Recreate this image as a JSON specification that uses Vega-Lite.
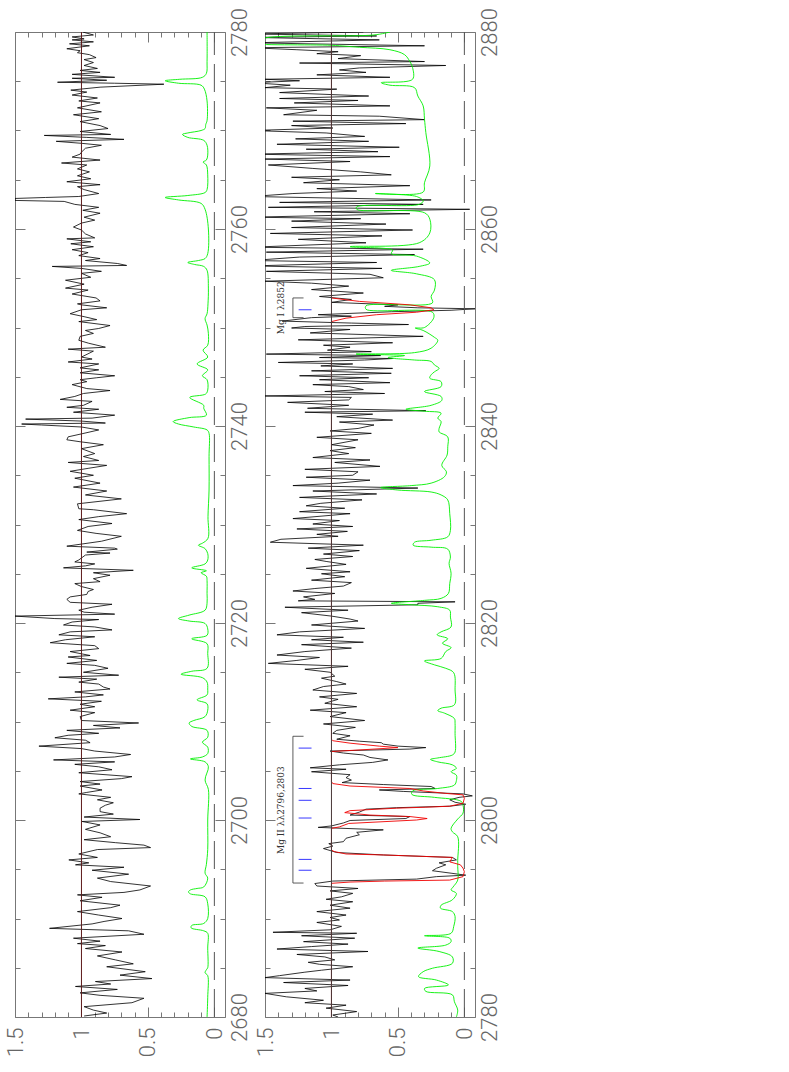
{"$schema":"https://vega.github.io/schema/vega-lite/v6.json","background":"white","bounds":"flush","padding":{"left":3,"top":7,"right":0,"bottom":0},"spacing":40,
"config":{"view":{"stroke":"#777","strokeWidth":1},"axis":{"grid":false,"domain":false,"title":null,"tickColor":"#777","tickWidth":1,"labelFlush":false,"labelOverlap":false,"labelBound":false,"labelFont":"Roboto","labelFontWeight":300,"labelFontSize":22,"labelColor":"#666","labelAngle":270,"labelBaseline":"middle","format":"d"}},
"datasets":{
"unityA":[{"w":2680,"f":1},{"w":2780,"f":1}],
"zeroA":[{"w":2680,"f":0},{"w":2780,"f":0}],
"unityB":[{"w":2780,"f":1},{"w":2880,"f":1}],
"zeroB":[{"w":2780,"f":0},{"w":2880,"f":0}],
"s1":[{"w":2780,"f":0.99},{"w":2779.7,"f":0.91},{"w":2779.5,"f":1.07},{"w":2779.3,"f":0.98},{"w":2779.2,"f":1.07},{"w":2779,"f":0.91},{"w":2778.8,"f":1.09},{"w":2778.6,"f":0.94},{"w":2778.3,"f":1.11},{"w":2778.1,"f":1.01},{"w":2777.9,"f":1.03},{"w":2777.7,"f":0.94},{"w":2777.4,"f":0.89},{"w":2777.2,"f":0.98},{"w":2776.9,"f":0.91},{"w":2776.6,"f":0.98},{"w":2776.3,"f":0.88},{"w":2776.1,"f":1.01},{"w":2775.9,"f":0.86},{"w":2775.7,"f":1.07},{"w":2775.4,"f":0.75},{"w":2775.3,"f":1.07},{"w":2775.1,"f":0.81},{"w":2774.9,"f":1.18},{"w":2774.8,"f":0.75},{"w":2774.7,"f":0.38},{"w":2774.4,"f":0.86},{"w":2774.1,"f":1.08},{"w":2773.9,"f":0.96},{"w":2773.6,"f":1.07},{"w":2773.3,"f":0.88},{"w":2773,"f":1.02},{"w":2772.8,"f":0.86},{"w":2772.3,"f":1.03},{"w":2771.9,"f":0.85},{"w":2771.6,"f":1.06},{"w":2771.2,"f":0.87},{"w":2770.9,"f":1.01},{"w":2770.5,"f":0.86},{"w":2770.2,"f":0.8},{"w":2769.9,"f":1.01},{"w":2769.6,"f":0.78},{"w":2769.5,"f":1.28},{"w":2769.3,"f":0.96},{"w":2769.1,"f":0.68},{"w":2768.9,"f":1.19},{"w":2768.7,"f":1},{"w":2768.5,"f":0.85},{"w":2768.2,"f":0.97},{"w":2767.8,"f":1},{"w":2767.6,"f":1.01},{"w":2767.3,"f":1.07},{"w":2767,"f":0.86},{"w":2766.7,"f":1.15},{"w":2766.5,"f":0.96},{"w":2766.1,"f":1.03},{"w":2765.8,"f":0.94},{"w":2765.4,"f":1.03},{"w":2765.1,"f":0.93},{"w":2764.8,"f":1.11},{"w":2764.5,"f":0.86},{"w":2764.3,"f":1.03},{"w":2764,"f":0.98},{"w":2763.6,"f":0.87},{"w":2763.3,"f":1.02},{"w":2763.2,"f":1.27},{"w":2763.1,"f":1.5},{"w":2762.9,"f":1.5},{"w":2762.8,"f":1.13},{"w":2762.5,"f":1.05},{"w":2762.2,"f":0.87},{"w":2761.9,"f":0.99},{"w":2761.6,"f":0.86},{"w":2761.2,"f":0.98},{"w":2760.9,"f":0.9},{"w":2760.6,"f":1},{"w":2760.2,"f":1.06},{"w":2759.9,"f":1},{"w":2759.5,"f":0.97},{"w":2759.1,"f":0.9},{"w":2759,"f":1.11},{"w":2758.7,"f":0.93},{"w":2758.5,"f":1.08},{"w":2758.2,"f":0.91},{"w":2757.9,"f":1.07},{"w":2757.6,"f":0.95},{"w":2757.3,"f":1.02},{"w":2757,"f":0.86},{"w":2756.8,"f":0.97},{"w":2756.5,"f":0.73},{"w":2756.3,"f":0.66},{"w":2756.2,"f":1.22},{"w":2756,"f":1},{"w":2755.7,"f":0.85},{"w":2755.5,"f":1},{"w":2755.1,"f":0.93},{"w":2754.8,"f":1.12},{"w":2754.4,"f":0.98},{"w":2754,"f":1.12},{"w":2753.8,"f":0.95},{"w":2753.4,"f":1.07},{"w":2753,"f":0.89},{"w":2752.7,"f":0.86},{"w":2752.4,"f":1.03},{"w":2752.3,"f":1},{"w":2752,"f":0.81},{"w":2751.8,"f":1},{"w":2751.4,"f":1.085},{"w":2751.1,"f":0.98},{"w":2750.8,"f":0.885},{"w":2750.6,"f":1.02},{"w":2750.2,"f":0.785},{"w":2749.9,"f":0.87},{"w":2749.7,"f":0.97},{"w":2749.4,"f":0.91},{"w":2749.1,"f":1.01},{"w":2748.7,"f":1.02},{"w":2748.4,"f":0.945},{"w":2748,"f":0.82},{"w":2747.8,"f":1.1},{"w":2747.6,"f":0.91},{"w":2747,"f":1},{"w":2746.8,"f":0.92},{"w":2746.5,"f":1.1},{"w":2746.3,"f":0.87},{"w":2745.9,"f":1.01},{"w":2745.7,"f":0.87},{"w":2745.4,"f":1.01},{"w":2745.1,"f":0.75},{"w":2744.9,"f":0.885},{"w":2744.7,"f":1.01},{"w":2744.5,"f":0.96},{"w":2744.2,"f":1.07},{"w":2743.8,"f":0.96},{"w":2743.6,"f":0.785},{"w":2743.3,"f":0.985},{"w":2743,"f":1.05},{"w":2742.7,"f":1.16},{"w":2742.5,"f":0.92},{"w":2742.1,"f":0.985},{"w":2741.9,"f":1.11},{"w":2741.7,"f":0.87},{"w":2741.4,"f":1.06},{"w":2741.1,"f":0.75},{"w":2740.8,"f":0.92},{"w":2740.7,"f":1.42},{"w":2740.5,"f":1},{"w":2740.3,"f":0.82},{"w":2740.2,"f":1.45},{"w":2740.1,"f":1.3},{"w":2739.9,"f":1},{"w":2739.6,"f":0.87},{"w":2739.2,"f":1},{"w":2738.9,"f":1.1},{"w":2738.6,"f":1.11},{"w":2738.4,"f":1.01},{"w":2738.1,"f":0.835},{"w":2737.7,"f":1},{"w":2737.2,"f":0.9},{"w":2736.9,"f":0.985},{"w":2736.5,"f":0.87},{"w":2736.3,"f":1.1},{"w":2736,"f":0.81},{"w":2735.7,"f":0.95},{"w":2735.4,"f":1.085},{"w":2735,"f":0.91},{"w":2734.7,"f":1.05},{"w":2734.2,"f":0.86},{"w":2733.8,"f":1.06},{"w":2733.4,"f":0.81},{"w":2733,"f":0.97},{"w":2732.6,"f":0.7},{"w":2732.1,"f":1.03},{"w":2731.6,"f":1.02},{"w":2731.5,"f":0.91},{"w":2731.1,"f":0.66},{"w":2730.8,"f":0.87},{"w":2730.5,"f":1.02},{"w":2730.1,"f":0.77},{"w":2729.8,"f":0.95},{"w":2729.4,"f":1.03},{"w":2729.1,"f":0.89},{"w":2728.8,"f":0.7},{"w":2728.3,"f":0.85},{"w":2727.8,"f":1.11},{"w":2727.6,"f":0.75},{"w":2727.5,"f":0.73},{"w":2727.2,"f":0.96},{"w":2727.1,"f":0.785},{"w":2726.9,"f":0.97},{"w":2726.4,"f":1.02},{"w":2726.2,"f":1.05},{"w":2726,"f":0.9},{"w":2725.8,"f":0.97},{"w":2725.6,"f":1.135},{"w":2725.35,"f":0.61},{"w":2725.1,"f":0.91},{"w":2724.85,"f":0.785},{"w":2724.5,"f":0.91},{"w":2724.2,"f":0.86},{"w":2724,"f":1.05},{"w":2723.7,"f":1},{"w":2723.4,"f":0.91},{"w":2723.2,"f":0.95},{"w":2722.9,"f":0.96},{"w":2722.65,"f":1.085},{"w":2722.4,"f":1.11},{"w":2722.1,"f":1.085},{"w":2721.9,"f":0.77},{"w":2721.6,"f":0.92},{"w":2721.3,"f":1.02},{"w":2721.1,"f":0.98},{"w":2720.9,"f":0.75},{"w":2720.7,"f":1.5},{"w":2720.45,"f":1.2},{"w":2720.35,"f":0.87},{"w":2720.1,"f":1.07},{"w":2719.8,"f":1.135},{"w":2719.6,"f":0.9},{"w":2719.3,"f":0.77},{"w":2719.1,"f":1.085},{"w":2718.8,"f":1.17},{"w":2718.6,"f":0.9},{"w":2718.3,"f":1.12},{"w":2718,"f":1.235},{"w":2717.7,"f":0.9},{"w":2717.4,"f":0.87},{"w":2717.1,"f":1.085},{"w":2716.7,"f":0.935},{"w":2716.55,"f":1.1},{"w":2716.2,"f":0.885},{"w":2715.9,"f":1.11},{"w":2715.7,"f":0.9},{"w":2715.4,"f":0.8},{"w":2715,"f":0.985},{"w":2714.7,"f":0.72},{"w":2714.5,"f":1.17},{"w":2714.3,"f":0.885},{"w":2714,"f":1.02},{"w":2713.8,"f":0.87},{"w":2713.5,"f":0.835},{"w":2713.3,"f":0.785},{"w":2713,"f":1.05},{"w":2712.7,"f":0.835},{"w":2712.5,"f":0.97},{"w":2712.3,"f":1.25},{"w":2712.05,"f":0.85},{"w":2711.75,"f":1.01},{"w":2711.5,"f":0.9},{"w":2711.15,"f":1.085},{"w":2710.9,"f":0.9},{"w":2710.5,"f":1.01},{"w":2710.1,"f":1},{"w":2709.85,"f":0.57},{"w":2709.6,"f":0.91},{"w":2709.35,"f":0.71},{"w":2709.1,"f":1.11},{"w":2708.8,"f":0.87},{"w":2708.6,"f":1.1},{"w":2708.35,"f":1.2},{"w":2708.1,"f":0.97},{"w":2707.85,"f":0.935},{"w":2707.5,"f":1.32},{"w":2707.25,"f":1},{"w":2707,"f":0.9},{"w":2706.65,"f":0.63},{"w":2706.4,"f":0.75},{"w":2706.1,"f":1.21},{"w":2705.9,"f":0.75},{"w":2705.65,"f":1.05},{"w":2705.4,"f":0.87},{"w":2705.1,"f":0.77},{"w":2704.8,"f":1.02},{"w":2704.4,"f":0.62},{"w":2704.2,"f":0.7},{"w":2703.9,"f":1.01},{"w":2703.65,"f":0.86},{"w":2703.45,"f":1.01},{"w":2703.05,"f":0.845},{"w":2702.8,"f":0.96},{"w":2702.65,"f":1.02},{"w":2702.3,"f":0.78},{"w":2702.05,"f":0.88},{"w":2701.75,"f":0.76},{"w":2701.5,"f":0.82},{"w":2701.2,"f":0.86},{"w":2700.85,"f":0.86},{"w":2700.6,"f":0.76},{"w":2700.3,"f":0.98},{"w":2700.05,"f":0.56},{"w":2699.85,"f":0.995},{"w":2699.5,"f":0.86},{"w":2699.05,"f":0.97},{"w":2698.7,"f":0.86},{"w":2698.3,"f":0.78},{"w":2698,"f":0.98},{"w":2697.7,"f":0.745},{"w":2697.45,"f":0.53},{"w":2697.2,"f":0.48},{"w":2697,"f":0.88},{"w":2696.55,"f":1.02},{"w":2696.2,"f":0.88},{"w":2695.95,"f":1.095},{"w":2695.65,"f":0.945},{"w":2695.45,"f":1.045},{"w":2695.2,"f":0.68},{"w":2694.9,"f":0.92},{"w":2694.5,"f":0.645},{"w":2694.1,"f":0.88},{"w":2693.75,"f":0.78},{"w":2693.3,"f":0.48},{"w":2692.9,"f":0.56},{"w":2692.65,"f":0.68},{"w":2692.4,"f":1.03},{"w":2692.15,"f":0.845},{"w":2691.8,"f":1.01},{"w":2691.35,"f":0.71},{"w":2691.1,"f":0.78},{"w":2690.7,"f":1.03},{"w":2690.35,"f":0.87},{"w":2690,"f":0.695},{"w":2689.7,"f":0.83},{"w":2689.45,"f":0.92},{"w":2689,"f":1.24},{"w":2688.75,"f":0.645},{"w":2688.4,"f":0.53},{"w":2688,"f":1.06},{"w":2687.7,"f":0.86},{"w":2687.45,"f":1.03},{"w":2687.25,"f":0.82},{"w":2686.95,"f":0.97},{"w":2686.6,"f":0.695},{"w":2686.2,"f":0.88},{"w":2685.8,"f":0.745},{"w":2685.4,"f":0.61},{"w":2685.1,"f":0.81},{"w":2684.6,"f":0.52},{"w":2684.25,"f":0.71},{"w":2683.9,"f":0.47},{"w":2683.6,"f":0.895},{"w":2683.35,"f":0.78},{"w":2683.1,"f":1.045},{"w":2682.8,"f":0.73},{"w":2682.45,"f":1.01},{"w":2682.2,"f":0.86},{"w":2681.9,"f":0.53},{"w":2681.45,"f":0.62},{"w":2681.05,"f":0.98},{"w":2680.7,"f":0.91},{"w":2680.4,"f":0.81},{"w":2680.1,"f":0.98}],
"e1":[{"w":2780,"f":0.055},{"w":2777,"f":0.055},{"w":2775.8,"f":0.06},{"w":2775.4,"f":0.09},{"w":2775.2,"f":0.26},{"w":2775.05,"f":0.37},{"w":2774.8,"f":0.27},{"w":2774.6,"f":0.1},{"w":2774.2,"f":0.075},{"w":2773,"f":0.055},{"w":2771,"f":0.055},{"w":2770.6,"f":0.065},{"w":2770.2,"f":0.07},{"w":2770,"f":0.1},{"w":2769.75,"f":0.2},{"w":2769.6,"f":0.24},{"w":2769.3,"f":0.2},{"w":2769,"f":0.08},{"w":2768.5,"f":0.055},{"w":2767.5,"f":0.05},{"w":2767,"f":0.06},{"w":2766.8,"f":0.085},{"w":2766.5,"f":0.06},{"w":2765.5,"f":0.05},{"w":2764,"f":0.055},{"w":2763.7,"f":0.07},{"w":2763.4,"f":0.2},{"w":2763.2,"f":0.37},{"w":2762.95,"f":0.27},{"w":2762.6,"f":0.1},{"w":2762,"f":0.07},{"w":2760,"f":0.045},{"w":2757.5,"f":0.05},{"w":2757,"f":0.07},{"w":2756.8,"f":0.12},{"w":2756.6,"f":0.2},{"w":2756.4,"f":0.15},{"w":2756.2,"f":0.08},{"w":2755.8,"f":0.055},{"w":2754,"f":0.045},{"w":2752.4,"f":0.048},{"w":2751.4,"f":0.055},{"w":2750.9,"f":0.07},{"w":2750.25,"f":0.055},{"w":2749.4,"f":0.045},{"w":2748.2,"f":0.05},{"w":2747.7,"f":0.085},{"w":2747,"f":0.05},{"w":2746.3,"f":0.13},{"w":2745.7,"f":0.05},{"w":2745.1,"f":0.09},{"w":2744.7,"f":0.055},{"w":2743.65,"f":0.05},{"w":2743.25,"f":0.065},{"w":2742.9,"f":0.185},{"w":2742.1,"f":0.08},{"w":2741.8,"f":0.08},{"w":2741.1,"f":0.06},{"w":2740.85,"f":0.19},{"w":2740.45,"f":0.31},{"w":2740.2,"f":0.27},{"w":2739.9,"f":0.155},{"w":2739.6,"f":0.055},{"w":2739.25,"f":0.04},{"w":2736.9,"f":0.04},{"w":2733.5,"f":0.04},{"w":2730.8,"f":0.048},{"w":2728.6,"f":0.048},{"w":2728.1,"f":0.09},{"w":2727.9,"f":0.12},{"w":2727.55,"f":0.07},{"w":2727.05,"f":0.05},{"w":2726.4,"f":0.05},{"w":2726,"f":0.07},{"w":2725.6,"f":0.17},{"w":2725.3,"f":0.06},{"w":2725.1,"f":0.1},{"w":2724.75,"f":0.06},{"w":2724.3,"f":0.055},{"w":2723,"f":0.055},{"w":2722,"f":0.055},{"w":2721.3,"f":0.07},{"w":2720.8,"f":0.19},{"w":2720.45,"f":0.27},{"w":2720.2,"f":0.19},{"w":2719.95,"f":0.07},{"w":2719.4,"f":0.05},{"w":2718.75,"f":0.055},{"w":2718.4,"f":0.17},{"w":2717.9,"f":0.055},{"w":2716.9,"f":0.05},{"w":2715.4,"f":0.055},{"w":2715.1,"f":0.17},{"w":2714.8,"f":0.25},{"w":2714.45,"f":0.09},{"w":2714,"f":0.055},{"w":2713.3,"f":0.05},{"w":2712.7,"f":0.055},{"w":2712.2,"f":0.13},{"w":2711.8,"f":0.055},{"w":2711.15,"f":0.05},{"w":2710.5,"f":0.07},{"w":2710.1,"f":0.155},{"w":2709.85,"f":0.19},{"w":2709.5,"f":0.17},{"w":2709.1,"f":0.055},{"w":2708.4,"f":0.05},{"w":2707.9,"f":0.09},{"w":2707.4,"f":0.05},{"w":2706.75,"f":0.05},{"w":2706.4,"f":0.09},{"w":2706.2,"f":0.18},{"w":2705.9,"f":0.07},{"w":2705.4,"f":0.045},{"w":2704.06,"f":0.07},{"w":2703.1,"f":0.045},{"w":2700,"f":0.05},{"w":2697,"f":0.05},{"w":2695.5,"f":0.06},{"w":2694.6,"f":0.07},{"w":2694.1,"f":0.05},{"w":2693.2,"f":0.08},{"w":2693.05,"f":0.13},{"w":2692.9,"f":0.18},{"w":2692.7,"f":0.195},{"w":2692.5,"f":0.18},{"w":2692.2,"f":0.07},{"w":2691.5,"f":0.05},{"w":2690,"f":0.05},{"w":2689.5,"f":0.08},{"w":2689.3,"f":0.17},{"w":2689.05,"f":0.175},{"w":2688.75,"f":0.08},{"w":2688.5,"f":0.05},{"w":2687,"f":0.05},{"w":2685,"f":0.05},{"w":2684.8,"f":0.06},{"w":2684.5,"f":0.07},{"w":2684.2,"f":0.05},{"w":2682,"f":0.05},{"w":2680,"f":0.055}],
"s2":[{"w":2880,"f":0.76},{"w":2879.8,"f":1.6},{"w":2879.6,"f":0.66},{"w":2879.45,"f":1.6},{"w":2879.2,"f":0.64},{"w":2878.9,"f":1.6},{"w":2878.6,"f":0.3},{"w":2878.4,"f":1.6},{"w":2878.2,"f":1.26},{"w":2878,"f":0.95},{"w":2877.8,"f":1.11},{"w":2877.6,"f":0.78},{"w":2877.3,"f":0.95},{"w":2877,"f":0.3},{"w":2876.85,"f":1.24},{"w":2876.6,"f":0.14},{"w":2876.35,"f":0.79},{"w":2876.15,"f":0.94},{"w":2875.9,"f":0.74},{"w":2875.65,"f":1.11},{"w":2875.4,"f":0.56},{"w":2875.2,"f":1.5},{"w":2875.05,"f":1.24},{"w":2874.85,"f":1.6},{"w":2874.6,"f":1.31},{"w":2874.35,"f":1.5},{"w":2874.2,"f":0.96},{"w":2873.85,"f":1.39},{"w":2873.5,"f":0.72},{"w":2873.25,"f":1.39},{"w":2873.05,"f":0.8},{"w":2872.8,"f":1.28},{"w":2872.5,"f":0.56},{"w":2872.3,"f":1.49},{"w":2872.05,"f":1.11},{"w":2871.6,"f":1.36},{"w":2871.45,"f":0.64},{"w":2871.1,"f":0.3},{"w":2870.95,"f":1.29},{"w":2870.7,"f":0.44},{"w":2870.5,"f":1.3},{"w":2870.25,"f":0.99},{"w":2870,"f":1.6},{"w":2869.75,"f":1.04},{"w":2869.4,"f":0.75},{"w":2869.15,"f":1.27},{"w":2868.9,"f":0.72},{"w":2868.6,"f":1.41},{"w":2868.3,"f":0.49},{"w":2868.1,"f":1.19},{"w":2867.85,"f":0.65},{"w":2867.6,"f":1.6},{"w":2867.35,"f":0.56},{"w":2867.1,"f":1.5},{"w":2866.85,"f":0.86},{"w":2866.5,"f":1.475},{"w":2866.15,"f":1.14},{"w":2865.8,"f":0.78},{"w":2865.5,"f":0.55},{"w":2865.25,"f":1.3},{"w":2865,"f":0.94},{"w":2864.7,"f":1.21},{"w":2864.4,"f":0.41},{"w":2864.1,"f":1.11},{"w":2863.85,"f":0.81},{"w":2863.6,"f":1.29},{"w":2863.3,"f":1.6},{"w":2862.95,"f":0.25},{"w":2862.7,"f":1.39},{"w":2862.5,"f":0.31},{"w":2862.2,"f":1.475},{"w":2862,"f":-0.04},{"w":2861.75,"f":1.13},{"w":2861.55,"f":0.41},{"w":2861.2,"f":1.6},{"w":2861.05,"f":0.78},{"w":2860.8,"f":1.3},{"w":2860.5,"f":0.59},{"w":2860.15,"f":1.3},{"w":2859.9,"f":0.39},{"w":2859.55,"f":1.46},{"w":2859.3,"f":0.62},{"w":2858.95,"f":1.25},{"w":2858.6,"f":0.74},{"w":2858.15,"f":1.6},{"w":2857.95,"f":0.31},{"w":2857.65,"f":1.49},{"w":2857.4,"f":0.375},{"w":2857.15,"f":1.24},{"w":2856.8,"f":1.6},{"w":2856.6,"f":0.66},{"w":2856.25,"f":1.6},{"w":2856,"f":0.62},{"w":2855.7,"f":1.49},{"w":2855.4,"f":0.71},{"w":2855.05,"f":0.61},{"w":2854.7,"f":1.5},{"w":2854.5,"f":1.15},{"w":2854.2,"f":0.87},{"w":2853.85,"f":1.15},{"w":2853.5,"f":0.76},{"w":2853.15,"f":1.09},{"w":2852.85,"f":0.85},{"w":2852.55,"f":1},{"w":2852.3,"f":0.5},{"w":2852.15,"f":0.6},{"w":2852,"f":0.35},{"w":2851.9,"f":-0.08},{"w":2851.75,"f":0.1},{"w":2851.6,"f":0.55},{"w":2851.3,"f":1.1},{"w":2851.15,"f":0.85},{"w":2851,"f":1.15},{"w":2850.65,"f":1.37},{"w":2850.45,"f":0.85},{"w":2850.3,"f":0.42},{"w":2850.1,"f":1.2},{"w":2849.95,"f":1.3},{"w":2849.8,"f":0.86},{"w":2849.45,"f":1.16},{"w":2849.1,"f":0.31},{"w":2848.75,"f":1.25},{"w":2848.45,"f":0.54},{"w":2848.2,"f":1.06},{"w":2848,"f":0.86},{"w":2847.7,"f":1.03},{"w":2847.55,"f":0.7},{"w":2847.3,"f":1.49},{"w":2847.15,"f":0.63},{"w":2846.95,"f":1.09},{"w":2846.85,"f":0.54},{"w":2846.7,"f":0.75},{"w":2846.45,"f":1.4},{"w":2846.3,"f":0.84},{"w":2846.1,"f":1.08},{"w":2845.85,"f":0.54},{"w":2845.6,"f":1.15},{"w":2845.35,"f":0.55},{"w":2845.1,"f":1.24},{"w":2844.9,"f":0.72},{"w":2844.7,"f":1.09},{"w":2844.4,"f":0.56},{"w":2844.2,"f":1.14},{"w":2844,"f":0.87},{"w":2843.7,"f":0.76},{"w":2843.5,"f":1.05},{"w":2843.3,"f":0.6},{"w":2843.05,"f":1.5},{"w":2842.9,"f":0.85},{"w":2842.65,"f":0.87},{"w":2842.4,"f":1.33},{"w":2842.1,"f":0.87},{"w":2841.8,"f":1.18},{"w":2841.55,"f":0.29},{"w":2841.4,"f":1.2},{"w":2841.2,"f":0.69},{"w":2840.95,"f":0.96},{"w":2840.6,"f":0.54},{"w":2840.4,"f":0.94},{"w":2840.1,"f":0.68},{"w":2839.75,"f":0.8},{"w":2839.5,"f":1.01},{"w":2839.25,"f":0.7},{"w":2838.85,"f":1.11},{"w":2838.6,"f":0.8},{"w":2838.1,"f":1},{"w":2837.8,"f":0.82},{"w":2837.5,"f":1.01},{"w":2837.2,"f":0.87},{"w":2836.8,"f":1.14},{"w":2836.55,"f":0.71},{"w":2836.3,"f":0.975},{"w":2835.9,"f":0.635},{"w":2835.6,"f":1.2},{"w":2835.35,"f":0.8},{"w":2835,"f":0.84},{"w":2834.8,"f":1.19},{"w":2834.5,"f":0.71},{"w":2834.2,"f":0.95},{"w":2833.95,"f":1.29},{"w":2833.7,"f":0.35},{"w":2833.4,"f":1.14},{"w":2833.1,"f":0.66},{"w":2832.75,"f":1.24},{"w":2832.5,"f":0.77},{"w":2832.15,"f":1.08},{"w":2831.9,"f":1.19},{"w":2831.65,"f":0.9},{"w":2831.3,"f":1.24},{"w":2831.1,"f":0.86},{"w":2830.6,"f":1.29},{"w":2830.4,"f":0.94},{"w":2830.05,"f":1.14},{"w":2829.8,"f":0.84},{"w":2829.55,"f":1.26},{"w":2829.3,"f":0.88},{"w":2829,"f":1.11},{"w":2828.8,"f":0.95},{"w":2828.5,"f":1.38},{"w":2828.2,"f":1.46},{"w":2827.9,"f":0.76},{"w":2827.6,"f":1.175},{"w":2827.35,"f":0.79},{"w":2827,"f":1.06},{"w":2826.75,"f":0.84},{"w":2826.45,"f":1.125},{"w":2826.25,"f":1.04},{"w":2825.95,"f":0.89},{"w":2825.55,"f":1.19},{"w":2825.2,"f":0.86},{"w":2825,"f":1.075},{"w":2824.7,"f":0.9},{"w":2824.35,"f":1.15},{"w":2824.1,"f":0.85},{"w":2823.75,"f":0.91},{"w":2823.5,"f":1.125},{"w":2823.25,"f":1.29},{"w":2823,"f":0.975},{"w":2822.65,"f":1.21},{"w":2822.4,"f":1.125},{"w":2822.25,"f":1.25},{"w":2822.15,"f":0.07},{"w":2822,"f":0.35},{"w":2821.85,"f":0.35},{"w":2821.6,"f":1.35},{"w":2821.3,"f":0.875},{"w":2821.05,"f":1.225},{"w":2820.7,"f":1},{"w":2820.4,"f":0.86},{"w":2820.2,"f":0.8},{"w":2819.8,"f":1.15},{"w":2819.45,"f":0.75},{"w":2819.1,"f":1.24},{"w":2818.8,"f":1.41},{"w":2818.55,"f":0.91},{"w":2818.3,"f":1.15},{"w":2818.05,"f":0.76},{"w":2817.8,"f":1.225},{"w":2817.45,"f":0.85},{"w":2817.1,"f":1.2},{"w":2816.75,"f":1.41},{"w":2816.5,"f":1.09},{"w":2816.2,"f":1.26},{"w":2815.9,"f":1.475},{"w":2815.6,"f":0.875},{"w":2815.3,"f":1.2},{"w":2815,"f":1.01},{"w":2814.6,"f":0.975},{"w":2814.4,"f":1.075},{"w":2814.05,"f":0.96},{"w":2813.8,"f":0.89},{"w":2813.55,"f":1.06},{"w":2813.2,"f":1.14},{"w":2812.85,"f":0.81},{"w":2812.5,"f":1.09},{"w":2812.25,"f":0.95},{"w":2811.85,"f":1.05},{"w":2811.5,"f":0.81},{"w":2811.15,"f":1.16},{"w":2810.9,"f":0.89},{"w":2810.5,"f":1.01},{"w":2810.1,"f":0.75},{"w":2809.75,"f":1.06},{"w":2809.4,"f":0.82},{"w":2809.1,"f":0.96},{"w":2808.8,"f":0.99},{"w":2808.55,"f":0.86},{"w":2808.2,"f":0.96},{"w":2808,"f":0.79},{"w":2807.85,"f":0.625},{"w":2807.7,"f":0.61},{"w":2807.5,"f":0.5},{"w":2807.35,"f":0.29},{"w":2807.2,"f":0.41},{"w":2807,"f":1.01},{"w":2806.8,"f":0.91},{"w":2806.6,"f":0.76},{"w":2806.35,"f":0.71},{"w":2806.1,"f":0.575},{"w":2805.85,"f":0.69},{"w":2805.6,"f":0.94},{"w":2805.3,"f":1.16},{"w":2805.15,"f":0.89},{"w":2804.9,"f":1.15},{"w":2804.6,"f":0.86},{"w":2804.3,"f":0.89},{"w":2804.05,"f":0.85},{"w":2803.8,"f":0.92},{"w":2803.6,"f":0.61},{"w":2803.4,"f":0.25},{"w":2803.2,"f":0.22},{"w":2803.05,"f":0.64},{"w":2802.9,"f":0.46},{"w":2802.65,"f":0.01},{"w":2802.45,"f":-0.06},{"w":2802.3,"f":0.04},{"w":2802.05,"f":0.11},{"w":2801.8,"f":0.07},{"w":2801.6,"f":-0.01},{"w":2801.4,"f":0.11},{"w":2801.25,"f":0.51},{"w":2801.1,"f":0.74},{"w":2800.8,"f":0.79},{"w":2800.5,"f":0.86},{"w":2800.35,"f":0.41},{"w":2800.15,"f":0.44},{"w":2799.95,"f":0.86},{"w":2799.7,"f":0.91},{"w":2799.4,"f":1},{"w":2799.25,"f":1.1},{"w":2799,"f":0.61},{"w":2798.75,"f":0.81},{"w":2798.5,"f":0.79},{"w":2798.15,"f":0.89},{"w":2797.8,"f":0.91},{"w":2797.6,"f":1.02},{"w":2797.35,"f":0.99},{"w":2797.1,"f":1.06},{"w":2796.9,"f":1.01},{"w":2796.7,"f":0.96},{"w":2796.45,"f":0.61},{"w":2796.2,"f":0.09},{"w":2795.95,"f":0.06},{"w":2795.65,"f":0.19},{"w":2795.45,"f":0.14},{"w":2795.1,"f":0.21},{"w":2794.85,"f":0.24},{"w":2794.6,"f":0.1},{"w":2794.4,"f":-0.01},{"w":2794.25,"f":0.21},{"w":2794,"f":0.36},{"w":2793.8,"f":0.99},{"w":2793.55,"f":1.125},{"w":2793.3,"f":1.11},{"w":2793.05,"f":0.8},{"w":2792.8,"f":1.01},{"w":2792.55,"f":0.84},{"w":2792.2,"f":0.925},{"w":2791.95,"f":1.04},{"w":2791.7,"f":0.84},{"w":2791.35,"f":1.01},{"w":2791.05,"f":0.86},{"w":2790.7,"f":1.11},{"w":2790.35,"f":0.89},{"w":2790.1,"f":1.01},{"w":2789.85,"f":0.94},{"w":2789.6,"f":1.11},{"w":2789.2,"f":0.925},{"w":2788.85,"f":1.01},{"w":2788.6,"f":1.44},{"w":2788.5,"f":0.81},{"w":2788.25,"f":1.225},{"w":2788,"f":0.825},{"w":2787.65,"f":1.21},{"w":2787.4,"f":0.875},{"w":2787.15,"f":1.15},{"w":2786.9,"f":1.41},{"w":2786.65,"f":0.725},{"w":2786.35,"f":1.26},{"w":2786.1,"f":1.05},{"w":2785.8,"f":0.975},{"w":2785.55,"f":1.175},{"w":2785.35,"f":1.09},{"w":2785.1,"f":0.84},{"w":2784.75,"f":1.075},{"w":2784.55,"f":1.2},{"w":2784.2,"f":1.39},{"w":2784,"f":1.5},{"w":2783.75,"f":0.86},{"w":2783.5,"f":1.36},{"w":2783.2,"f":0.875},{"w":2782.9,"f":1.2},{"w":2782.65,"f":1.11},{"w":2782.4,"f":1.5},{"w":2782.05,"f":1.34},{"w":2781.7,"f":1.06},{"w":2781.45,"f":1.2},{"w":2781.2,"f":0.89},{"w":2780.9,"f":1.04},{"w":2780.55,"f":0.81},{"w":2780.2,"f":0.99},{"w":2780,"f":0.95}],
"e2":[{"w":2880,"f":0.56},{"w":2879.7,"f":0.68},{"w":2879.4,"f":1.5},{"w":2878.9,"f":1.6},{"w":2878.65,"f":1},{"w":2878.45,"f":0.79},{"w":2878.2,"f":0.56},{"w":2877.7,"f":0.45},{"w":2877,"f":0.41},{"w":2876.4,"f":0.39},{"w":2875.2,"f":0.39},{"w":2874.85,"f":0.625},{"w":2874.6,"f":0.56},{"w":2874.35,"f":0.375},{"w":2873.5,"f":0.35},{"w":2872.5,"f":0.31},{"w":2871.15,"f":0.3},{"w":2869.8,"f":0.29},{"w":2866.4,"f":0.26},{"w":2864.7,"f":0.3},{"w":2863.75,"f":0.31},{"w":2863.6,"f":0.67},{"w":2863.3,"f":0.36},{"w":2862.85,"f":0.31},{"w":2862.5,"f":0.34},{"w":2862.25,"f":0.81},{"w":2862,"f":0.81},{"w":2861.65,"f":0.3},{"w":2861,"f":0.26},{"w":2859.6,"f":0.26},{"w":2858.6,"f":0.34},{"w":2858.2,"f":0.86},{"w":2857.85,"f":0.54},{"w":2857.5,"f":0.55},{"w":2857.25,"f":0.36},{"w":2856.55,"f":0.26},{"w":2856.2,"f":0.34},{"w":2855.8,"f":0.55},{"w":2855.45,"f":0.36},{"w":2854.85,"f":0.225},{"w":2853.8,"f":0.225},{"w":2853.15,"f":0.25},{"w":2852.5,"f":0.24},{"w":2852.2,"f":0.74},{"w":2851.85,"f":0.74},{"w":2851.55,"f":0.24},{"w":2851,"f":0.23},{"w":2850,"f":0.3},{"w":2849.95,"f":0.37},{"w":2849.7,"f":0.31},{"w":2849,"f":0.225},{"w":2848.7,"f":0.2},{"w":2847.9,"f":0.25},{"w":2847.45,"f":0.375},{"w":2847.3,"f":0.815},{"w":2847.15,"f":0.45},{"w":2846.95,"f":0.575},{"w":2846.7,"f":0.375},{"w":2846.55,"f":0.25},{"w":2846.2,"f":0.225},{"w":2845.85,"f":0.19},{"w":2845.5,"f":0.225},{"w":2845.2,"f":0.25},{"w":2844.85,"f":0.26},{"w":2844.5,"f":0.175},{"w":2844,"f":0.175},{"w":2843.5,"f":0.3},{"w":2843,"f":0.175},{"w":2842.6,"f":0.17},{"w":2842.1,"f":0.25},{"w":2841.7,"f":0.44},{"w":2841.5,"f":0.3},{"w":2841.3,"f":0.175},{"w":2840.8,"f":0.2},{"w":2840.45,"f":0.175},{"w":2839.75,"f":0.19},{"w":2839.4,"f":0.19},{"w":2838.9,"f":0.125},{"w":2837.9,"f":0.125},{"w":2837.05,"f":0.13},{"w":2836,"f":0.17},{"w":2835.35,"f":0.135},{"w":2834.85,"f":0.15},{"w":2834.2,"f":0.25},{"w":2833.95,"f":0.4},{"w":2833.75,"f":0.63},{"w":2833.5,"f":0.5},{"w":2833.3,"f":0.25},{"w":2833,"f":0.175},{"w":2832.5,"f":0.125},{"w":2831.1,"f":0.11},{"w":2829.4,"f":0.105},{"w":2828.75,"f":0.125},{"w":2828.4,"f":0.25},{"w":2828.2,"f":0.375},{"w":2827.9,"f":0.385},{"w":2827.7,"f":0.25},{"w":2827.5,"f":0.125},{"w":2826.7,"f":0.105},{"w":2826.05,"f":0.115},{"w":2825.05,"f":0.1},{"w":2824,"f":0.11},{"w":2823,"f":0.12},{"w":2822.5,"f":0.175},{"w":2822.3,"f":0.3},{"w":2822,"f":0.55},{"w":2821.85,"f":0.4},{"w":2821.65,"f":0.2},{"w":2821.3,"f":0.11},{"w":2820.6,"f":0.105},{"w":2819.6,"f":0.1},{"w":2819.1,"f":0.175},{"w":2818.8,"f":0.205},{"w":2818.4,"f":0.125},{"w":2817.95,"f":0.165},{"w":2817.5,"f":0.1},{"w":2817.1,"f":0.14},{"w":2816.4,"f":0.175},{"w":2816.15,"f":0.3},{"w":2815.75,"f":0.225},{"w":2815.4,"f":0.14},{"w":2814.95,"f":0.08},{"w":2813.2,"f":0.07},{"w":2811.7,"f":0.075},{"w":2811.35,"f":0.175},{"w":2811.1,"f":0.2},{"w":2810.85,"f":0.15},{"w":2810.3,"f":0.075},{"w":2809.8,"f":0.07},{"w":2808.8,"f":0.07},{"w":2806.9,"f":0.07},{"w":2806.6,"f":0.09},{"w":2806.3,"f":0.2},{"w":2806.15,"f":0.255},{"w":2805.9,"f":0.2},{"w":2805.6,"f":0.09},{"w":2805.25,"f":0.06},{"w":2804.9,"f":0.1},{"w":2804.55,"f":0.06},{"w":2804,"f":0.06},{"w":2803.55,"f":0.075},{"w":2803.2,"f":0.2},{"w":2802.95,"f":0.39},{"w":2802.6,"f":0.395},{"w":2802.3,"f":0.225},{"w":2801.9,"f":0.025},{"w":2801.5,"f":0.01},{"w":2800.7,"f":0.01},{"w":2800.1,"f":0.05},{"w":2799.15,"f":0.1},{"w":2798.8,"f":0.09},{"w":2798.3,"f":0.05},{"w":2795.9,"f":0.05},{"w":2795.25,"f":0.05},{"w":2793.9,"f":0.05},{"w":2793.2,"f":0.085},{"w":2792.9,"f":0.1},{"w":2792.55,"f":0.06},{"w":2791.9,"f":0.09},{"w":2791.35,"f":0.175},{"w":2791.05,"f":0.18},{"w":2790.7,"f":0.09},{"w":2790.2,"f":0.07},{"w":2789.2,"f":0.08},{"w":2788.5,"f":0.1},{"w":2788.25,"f":0.3},{"w":2788,"f":0.11},{"w":2787.65,"f":0.1},{"w":2787.3,"f":0.14},{"w":2787,"f":0.35},{"w":2786.65,"f":0.19},{"w":2786.1,"f":0.09},{"w":2785.45,"f":0.09},{"w":2784.95,"f":0.24},{"w":2784.6,"f":0.31},{"w":2784.1,"f":0.345},{"w":2783.75,"f":0.21},{"w":2783.25,"f":0.12},{"w":2782.9,"f":0.3},{"w":2782.6,"f":0.29},{"w":2782.25,"f":0.09},{"w":2781.55,"f":0.075},{"w":2780.7,"f":0.05},{"w":2780,"f":0.06}],
"fit2":[{"w":2780,"f":1},{"w":2793.57,"f":1},{"w":2793.7,"f":0.86},{"w":2793.8,"f":0.6},{"w":2793.9,"f":0.11},{"w":2794.25,"f":0.01},{"w":2794.75,"f":0},{"w":2795.1,"f":0.01},{"w":2795.45,"f":0.03},{"w":2795.75,"f":0.11},{"w":2796.2,"f":0.09},{"w":2796.45,"f":0.61},{"w":2796.55,"f":0.89},{"w":2796.8,"f":0.98},{"w":2796.95,"f":1},{"w":2799.15,"f":1},{"w":2799.3,"f":0.94},{"w":2799.65,"f":0.87},{"w":2800,"f":0.36},{"w":2800.15,"f":0.28},{"w":2800.35,"f":0.41},{"w":2800.5,"f":0.71},{"w":2800.75,"f":0.9},{"w":2800.95,"f":0.86},{"w":2801.2,"f":0.51},{"w":2801.3,"f":0.29},{"w":2801.4,"f":0.11},{"w":2801.7,"f":0.01},{"w":2802.2,"f":0},{"w":2802.55,"f":0.01},{"w":2802.7,"f":0.14},{"w":2802.95,"f":0.31},{"w":2803.2,"f":0.41},{"w":2803.45,"f":0.86},{"w":2803.7,"f":0.99},{"w":2803.9,"f":1},{"w":2806.95,"f":1},{"w":2807.15,"f":0.74},{"w":2807.35,"f":0.5},{"w":2807.5,"f":0.64},{"w":2807.8,"f":0.86},{"w":2808.05,"f":0.99},{"w":2808.2,"f":1},{"w":2850.6,"f":1},{"w":2850.95,"f":0.89},{"w":2851.3,"f":0.66},{"w":2851.55,"f":0.36},{"w":2851.8,"f":0.23},{"w":2852,"f":0.25},{"w":2852.3,"f":0.41},{"w":2852.65,"f":0.79},{"w":2853,"f":1},{"w":2880,"f":1}],
"brackets":[{"g":"a","i":1,"w":2793.6,"f":1.21},{"g":"a","i":2,"w":2793.6,"f":1.29},{"g":"a","i":3,"w":2808.5,"f":1.29},{"g":"a","i":4,"w":2808.5,"f":1.21},{"g":"b","i":1,"w":2851,"f":1.21},{"g":"b","i":2,"w":2851,"f":1.29},{"g":"b","i":3,"w":2853,"f":1.29},{"g":"b","i":4,"w":2853,"f":1.21}],
"lines":[{"w":2807.3,"f1":1.247,"f2":1.15},{"w":2803.2,"f1":1.247,"f2":1.15},{"w":2802,"f1":1.247,"f2":1.15},{"w":2800.2,"f1":1.247,"f2":1.15},{"w":2796,"f1":1.247,"f2":1.15},{"w":2794.9,"f1":1.247,"f2":1.15},{"w":2851.8,"f1":1.247,"f2":1.15}],
"labels":[{"w":2801,"f":1.376,"t":"Mg II λλ2796,2803"},{"w":2852,"f":1.376,"t":"Mg I λ2852"}]
},
"hconcat":[
{"width":210,"height":985,"resolve":{"axis":{"x":"independent","y":"independent"}},"layer":[
{"data":{"name":"e1"},"mark":{"type":"line","stroke":"#00f000","strokeWidth":0.9,"clip":true,"interpolate":"catmull-rom"},"encoding":{"order":{"field":"w"},"x":{"field":"f","type":"quantitative","scale":{"domain":[1.5,-0.08],"nice":false,"zero":false},"axis":{"orient":"bottom","values":[0,0.5,1,1.5],"format":"~g","tickSize":-10,"labelAlign":"right","labelPadding":20}},"y":{"field":"w","type":"quantitative","scale":{"domain":[2680,2780],"nice":false,"zero":false},"axis":{"orient":"right","values":[2680,2700,2720,2740,2760,2780],"tickSize":-10,"labelAlign":"center","labelPadding":24}}}},
{"data":{"name":"s1"},"mark":{"type":"line","stroke":"#000","strokeWidth":0.8,"clip":true},"encoding":{"order":{"field":"w"},"x":{"field":"f","type":"quantitative","scale":{"domain":[1.5,-0.08],"nice":false,"zero":false},"axis":{"orient":"bottom","values":[0.1,0.2,0.3,0.4,0.6,0.7,0.8,0.9,1.1,1.2,1.3,1.4],"tickSize":-5,"labels":false}},"y":{"field":"w","type":"quantitative","scale":{"domain":[2680,2780],"nice":false,"zero":false},"axis":{"orient":"right","values":[2685,2690,2695,2705,2710,2715,2725,2730,2735,2745,2750,2755,2765,2770,2775],"tickSize":-5,"labels":false}}}},
{"data":{"name":"unityA"},"mark":{"type":"line","stroke":"#5c1a1a","strokeWidth":1},"encoding":{"order":{"field":"w"},"x":{"field":"f","type":"quantitative","scale":{"domain":[1.5,-0.08],"nice":false,"zero":false},"axis":{"orient":"top","values":[0,0.5,1,1.5],"tickSize":-10,"labels":false}},"y":{"field":"w","type":"quantitative","scale":{"domain":[2680,2780],"nice":false,"zero":false},"axis":{"orient":"left","values":[2680,2700,2720,2740,2760,2780],"tickSize":-10,"labels":false}}}},
{"data":{"name":"zeroA"},"mark":{"type":"line","stroke":"#555","strokeWidth":1,"strokeDash":[28,9]},"encoding":{"order":{"field":"w"},"x":{"field":"f","type":"quantitative","scale":{"domain":[1.5,-0.08],"nice":false,"zero":false},"axis":{"orient":"top","values":[0.1,0.2,0.3,0.4,0.6,0.7,0.8,0.9,1.1,1.2,1.3,1.4],"tickSize":-5,"labels":false}},"y":{"field":"w","type":"quantitative","scale":{"domain":[2680,2780],"nice":false,"zero":false},"axis":{"orient":"left","values":[2685,2690,2695,2705,2710,2715,2725,2730,2735,2745,2750,2755,2765,2770,2775],"tickSize":-5,"labels":false}}}}
]},
{"width":210,"height":985,"resolve":{"axis":{"x":"independent","y":"independent"}},"layer":[
{"data":{"name":"s2"},"mark":{"type":"line","stroke":"#000","strokeWidth":0.8,"clip":true},"encoding":{"order":{"field":"w"},"x":{"field":"f","type":"quantitative","scale":{"domain":[1.5,-0.08],"nice":false,"zero":false},"axis":{"orient":"bottom","values":[0.1,0.2,0.3,0.4,0.6,0.7,0.8,0.9,1.1,1.2,1.3,1.4],"tickSize":-5,"labels":false}},"y":{"field":"w","type":"quantitative","scale":{"domain":[2780,2880],"nice":false,"zero":false},"axis":{"orient":"right","values":[2785,2790,2795,2805,2810,2815,2825,2830,2835,2845,2850,2855,2865,2870,2875],"tickSize":-5,"labels":false}}}},
{"data":{"name":"e2"},"mark":{"type":"line","stroke":"#00f000","strokeWidth":0.9,"clip":true,"interpolate":"catmull-rom"},"encoding":{"order":{"field":"w"},"x":{"field":"f","type":"quantitative","scale":{"domain":[1.5,-0.08],"nice":false,"zero":false},"axis":{"orient":"bottom","values":[0,0.5,1,1.5],"format":"~g","tickSize":-10,"labelAlign":"right","labelPadding":20}},"y":{"field":"w","type":"quantitative","scale":{"domain":[2780,2880],"nice":false,"zero":false},"axis":{"orient":"right","values":[2780,2800,2820,2840,2860,2880],"tickSize":-10,"labelAlign":"center","labelPadding":24}}}},
{"data":{"name":"fit2"},"mark":{"type":"line","stroke":"#f00000","strokeWidth":0.9,"clip":true},"encoding":{"order":{"field":"w"},"x":{"field":"f","type":"quantitative","scale":{"domain":[1.5,-0.08],"nice":false,"zero":false},"axis":null},"y":{"field":"w","type":"quantitative","scale":{"domain":[2780,2880],"nice":false,"zero":false},"axis":null}}},
{"data":{"name":"unityB"},"mark":{"type":"line","stroke":"#4a3838","strokeWidth":1},"encoding":{"order":{"field":"w"},"x":{"field":"f","type":"quantitative","scale":{"domain":[1.5,-0.08],"nice":false,"zero":false},"axis":{"orient":"top","values":[0,0.5,1,1.5],"tickSize":-10,"labels":false}},"y":{"field":"w","type":"quantitative","scale":{"domain":[2780,2880],"nice":false,"zero":false},"axis":{"orient":"left","values":[2780,2800,2820,2840,2860,2880],"tickSize":-10,"labels":false}}}},
{"data":{"name":"zeroB"},"mark":{"type":"line","stroke":"#555","strokeWidth":1,"strokeDash":[28,9]},"encoding":{"order":{"field":"w"},"x":{"field":"f","type":"quantitative","scale":{"domain":[1.5,-0.08],"nice":false,"zero":false},"axis":{"orient":"top","values":[0.1,0.2,0.3,0.4,0.6,0.7,0.8,0.9,1.1,1.2,1.3,1.4],"tickSize":-5,"labels":false}},"y":{"field":"w","type":"quantitative","scale":{"domain":[2780,2880],"nice":false,"zero":false},"axis":{"orient":"left","values":[2785,2790,2795,2805,2810,2815,2825,2830,2835,2845,2850,2855,2865,2870,2875],"tickSize":-5,"labels":false}}}},
{"data":{"name":"brackets"},"mark":{"type":"line","stroke":"#333","strokeWidth":0.8},"encoding":{"order":{"field":"i"},"detail":{"field":"g"},"x":{"field":"f","type":"quantitative","scale":{"domain":[1.5,-0.08],"nice":false,"zero":false},"axis":null},"y":{"field":"w","type":"quantitative","scale":{"domain":[2780,2880],"nice":false,"zero":false},"axis":null}}},
{"data":{"name":"lines"},"mark":{"type":"rule","stroke":"#2020ff","strokeWidth":0.9},"encoding":{"x":{"field":"f1","type":"quantitative","scale":{"domain":[1.5,-0.08],"nice":false,"zero":false},"axis":null},"x2":{"field":"f2"},"y":{"field":"w","type":"quantitative","scale":{"domain":[2780,2880],"nice":false,"zero":false},"axis":null}}},
{"data":{"name":"labels"},"mark":{"type":"text","angle":270,"align":"center","baseline":"middle","font":"DejaVu Serif","fontSize":9,"fill":"#333"},"encoding":{"text":{"field":"t"},"x":{"field":"f","type":"quantitative","scale":{"domain":[1.5,-0.08],"nice":false,"zero":false},"axis":null},"y":{"field":"w","type":"quantitative","scale":{"domain":[2780,2880],"nice":false,"zero":false},"axis":null}}}
]}
]}
